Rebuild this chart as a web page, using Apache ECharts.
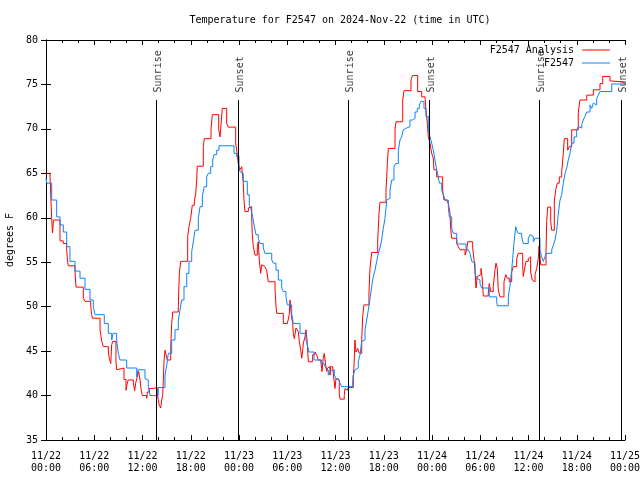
<!DOCTYPE html>
<html><head><meta charset="utf-8">
<script src="https://cdn.jsdelivr.net/npm/echarts@6/dist/echarts.min.js"></script>
<style>html,body{margin:0;padding:0;background:#fff}#c{width:640px;height:480px}</style>
</head><body><div id="c"></div>
<script>
// hours since 2024-11-22 00:00 UTC
const analysisHours = [0.00,0.50,0.71,0.81,0.93,1.74,2.15,2.57,2.67,2.77,3.61,3.73,4.64,4.85,5.56,5.68,5.78,6.72,6.93,7.13,7.75,7.87,8.05,8.17,8.29,8.70,8.79,8.99,9.70,9.95,10.11,10.23,10.86,11.03,11.15,11.35,11.53,11.69,11.81,11.97,12.52,12.60,12.85,13.34,13.55,13.84,13.96,14.09,14.26,14.39,14.51,14.59,14.67,14.80,14.92,15.08,15.51,15.63,15.76,16.45,16.58,16.75,17.62,17.78,17.99,18.19,18.44,18.62,18.74,18.81,19.56,19.68,20.52,20.68,21.48,21.64,21.76,21.92,22.47,22.67,23.59,23.79,23.91,24.12,24.34,24.46,24.53,24.62,24.74,25.16,25.37,25.58,25.65,25.78,25.99,26.28,26.40,26.52,26.70,26.82,27.02,27.23,27.44,27.64,28.48,28.60,28.69,29.51,30.01,30.25,30.34,30.53,30.68,30.75,30.88,31.09,31.30,31.37,31.50,31.67,31.80,31.92,32.00,32.21,32.33,32.49,32.62,33.16,33.45,33.66,33.86,34.16,34.32,34.48,34.61,34.78,34.91,35.03,35.19,35.32,35.40,35.65,35.81,35.94,36.06,36.22,36.47,36.56,37.09,37.18,37.39,37.47,37.59,38.21,38.30,38.42,38.55,38.76,38.96,39.26,39.38,39.54,40.16,40.29,40.50,41.25,41.41,41.53,42.28,42.37,42.44,42.57,43.40,43.52,44.36,44.52,45.39,45.55,46.22,46.72,47.13,47.25,47.42,47.54,47.75,47.96,48.16,48.25,48.58,49.33,49.49,49.83,50.03,50.24,50.32,50.45,51.07,51.27,51.48,52.11,52.32,52.44,53.06,53.23,53.35,53.47,53.63,53.76,54.09,54.22,54.30,54.38,55.00,55.12,55.30,55.62,55.83,55.96,56.12,56.24,56.46,56.95,57.17,57.36,57.61,57.91,58.11,58.53,58.73,59.28,59.35,59.48,59.69,59.97,60.10,60.27,60.47,60.68,60.81,61.02,61.22,61.31,61.52,62.18,62.26,62.39,62.76,62.89,63.21,63.42,63.58,63.83,64.13,64.33,64.45,64.87,65.07,65.37,66.19,66.40,67.24,68.06,68.89,69.23,70.14,70.35,71.59,72.00];
const analysisTemps = [65.0,64.6,59.9,58.3,59.75,57.4,57.1,56.4,55.25,54.6,53.9,52.2,50.9,50.6,50.1,49.1,48.7,47.4,46.1,45.5,44.9,44.2,43.6,45.7,46.1,43.8,42.9,43.1,41.8,40.6,41.4,41.75,41.4,40.55,41.4,42.1,42.7,41.75,40.8,40.0,39.7,40.4,40.8,40.7,40.9,40.25,39.5,38.9,38.6,39.5,40.0,41.6,43.8,45.1,44.6,44.0,45.5,48.1,49.4,50.0,53.75,55.1,57.9,59.0,59.9,61.4,61.8,62.75,64.25,65.8,68.0,68.9,69.9,71.6,69.9,69.1,70.4,72.3,70.6,70.2,68.4,67.1,66.1,65.4,65.75,64.6,63.9,62.0,60.7,61.1,61.25,60.1,58.1,56.75,55.8,56.75,57.3,55.25,53.75,54.7,54.5,54.7,54.1,52.8,51.9,50.1,49.25,48.1,48.3,49.1,50.75,48.9,48.1,47.0,46.4,47.6,47.75,47.2,46.1,45.1,44.2,45.1,45.9,46.6,47.4,45.9,43.8,44.6,44.9,44.6,44.0,43.8,42.7,44.2,44.75,43.4,42.7,43.1,43.25,42.3,43.25,43.1,41.75,40.8,41.9,41.75,40.25,39.6,40.0,40.8,41.0,40.6,40.9,42.1,43.25,46.25,44.9,45.3,44.75,46.25,48.9,50.2,51.5,54.3,56.1,57.5,60.5,61.75,63.1,64.6,66.1,67.8,69.9,70.8,73.25,74.3,75.5,76.0,74.2,73.6,73.4,72.1,70.6,69.1,68.4,67.25,66.7,65.4,64.6,63.1,62.0,61.8,61.6,60.5,58.8,57.7,57.1,56.75,56.4,55.8,56.4,57.3,56.6,55.25,54.1,52.1,53.4,53.6,54.3,53.4,52.4,51.2,51.5,52.6,51.7,52.25,54.1,54.9,54.3,51.9,51.1,52.8,53.6,53.2,52.8,53.9,54.5,55.4,56.0,54.5,53.4,54.1,55.1,55.4,55.6,53.9,53.0,52.8,53.6,54.3,55.4,56.8,54.7,56.2,59.6,61.2,59.6,58.6,62.0,63.3,63.9,64.6,65.2,67.25,68.9,67.6,68.0,69.9,71.9,73.25,73.8,74.4,75.1,75.9,75.4,75.3,75.1,75.1];

const stationHours = [0.00,0.09,0.71,1.33,1.74,2.15,2.57,2.98,3.61,4.23,4.85,5.47,5.88,6.09,7.25,7.75,8.17,8.33,8.79,8.99,9.20,10.03,11.28,11.44,12.31,12.52,12.72,12.93,13.96,14.80,15.01,15.21,15.63,16.04,16.45,16.66,16.87,17.16,17.50,17.78,18.12,18.32,18.53,18.94,19.15,19.44,19.68,19.98,20.18,20.48,20.73,20.89,21.23,21.51,23.38,23.71,24.00,24.12,24.34,24.53,25.03,25.28,25.46,25.70,25.87,26.11,26.40,26.61,27.02,27.23,28.07,28.27,28.60,28.89,29.31,29.51,29.84,30.01,30.55,30.75,31.59,32.33,32.49,32.70,33.33,34.28,34.57,34.78,34.98,35.10,35.32,35.44,35.85,36.06,36.35,36.56,36.77,38.14,38.21,38.42,38.63,38.83,39.05,39.26,39.46,39.67,39.88,40.08,40.29,40.50,40.70,40.91,41.12,41.32,41.53,41.74,41.94,42.15,42.37,42.57,42.78,42.99,43.27,43.49,43.81,44.02,44.23,44.43,44.64,44.85,45.26,45.60,45.89,46.17,46.42,46.63,47.00,47.25,47.54,47.75,47.96,48.16,48.37,48.58,48.78,48.91,49.21,49.41,49.62,50.03,50.15,50.45,50.65,51.07,51.15,52.23,52.51,52.73,52.94,53.13,53.35,53.56,53.76,53.97,54.18,55.12,56.04,56.12,57.49,57.70,57.91,58.03,58.23,58.41,58.53,58.73,59.15,59.35,59.97,60.19,60.40,60.60,60.81,61.43,61.64,61.84,62.05,62.18,62.89,63.08,63.30,63.51,63.71,63.92,64.13,64.33,64.54,64.75,64.95,65.16,65.37,65.66,65.99,66.19,66.40,66.62,66.81,67.03,67.24,67.65,67.86,68.06,68.27,68.48,68.68,68.89,70.35,72.00];
const stationTemps = [64.5,63.9,62.0,60.1,59.2,58.4,56.75,55.1,54.0,53.2,51.95,50.75,50.0,49.1,48.1,47.0,46.25,47.0,46.25,44.75,44.0,43.1,42.1,42.9,41.9,41.75,41.0,40.0,40.9,42.3,43.4,44.75,46.25,47.4,48.5,49.6,50.75,52.25,53.75,55.1,56.2,57.3,58.6,59.9,61.25,62.4,63.5,64.6,65.0,65.75,66.5,67.1,67.6,68.1,67.25,66.9,65.6,65.2,65.0,64.1,62.6,61.4,61.1,60.1,59.2,58.1,57.7,57.1,56.6,56.0,55.25,54.9,54.1,53.0,52.1,51.7,51.1,50.2,49.25,48.1,47.0,46.25,45.7,44.9,44.0,43.6,43.4,43.1,42.9,42.3,42.7,42.9,42.3,41.9,41.75,41.4,41.0,41.6,42.3,42.9,43.1,43.8,44.6,46.1,46.25,47.4,48.5,49.6,50.9,52.25,53.4,54.1,55.1,56.0,56.6,57.5,58.8,59.9,62.0,62.2,63.1,64.25,65.75,66.1,67.6,68.75,69.1,69.9,70.1,70.25,71.0,71.2,71.9,72.3,72.7,73.1,72.3,71.4,69.9,69.1,68.4,67.6,66.5,65.4,64.6,63.9,63.1,62.6,62.0,61.25,60.1,58.8,58.25,57.5,57.05,56.4,56.2,56.0,55.1,54.9,53.75,53.2,53.0,52.6,52.1,51.1,50.6,50.1,51.1,52.4,54.1,55.4,57.5,59.0,58.6,58.25,57.9,57.1,57.7,58.1,57.9,57.3,57.7,56.4,55.6,55.1,55.6,56.0,56.4,56.9,57.5,58.6,60.5,62.0,62.6,63.9,65.0,65.6,66.5,67.25,68.4,69.1,69.9,70.25,70.1,70.5,71.0,71.4,71.9,72.7,72.3,72.9,72.7,73.4,73.8,74.2,75.05,75.05];

const sunLabels = ['Sunrise','Sunset','Sunrise','Sunset','Sunrise','Sunset'];
const sunHours = [13.68,23.88,37.55,47.63,61.31,71.50];
const xTickLabels = ['11/22\n00:00','11/22\n06:00','11/22\n12:00','11/22\n18:00','11/23\n00:00','11/23\n06:00','11/23\n12:00','11/23\n18:00','11/24\n00:00','11/24\n06:00','11/24\n12:00','11/24\n18:00','11/25\n00:00'];
const seriesNames = ['F2547 Analysis','F2547'];

const FONT = 'DejaVu Sans Mono';
const zip = (a,b) => a.map((v,i)=>[v,b[i]]);
const sunLineTop = 73.25, sunLabelBase = 74.1;

const xCommon = {
  type:'value', min:0, max:72, interval:6,
  axisLine:{show:true, lineStyle:{color:'#000', width:1}},
  axisTick:{show:true, inside:true, length:5, lineStyle:{color:'#000'}},
  minorTick:{show:true, splitNumber:3, length:3, lineStyle:{color:'#000'}},
  splitLine:{show:false}
};
const yCommon = {
  type:'value', min:35, max:80, interval:5,
  axisLine:{show:true, lineStyle:{color:'#000', width:1}},
  axisTick:{show:true, inside:true, length:5, lineStyle:{color:'#000'}},
  splitLine:{show:false}
};

const chart = echarts.init(document.getElementById('c'), null, {renderer:'canvas'});
chart.setOption({
  animation:false,
  backgroundColor:'#fff',
  textStyle:{fontFamily:FONT, color:'#000'},
  title:{text:'Temperature for F2547 on 2024-Nov-22 (time in UTC)', left:335, top:10, textAlign:'center',
    textStyle:{fontFamily:FONT, fontSize:10, fontWeight:'normal', color:'#000'}},
  grid:{left:46, right:15, top:40, bottom:40, containLabel:false, outerBoundsMode:'none'},
  legend:[
    {data:[seriesNames[0]], right:25, top:40, itemWidth:28, itemHeight:1, itemGap:0, icon:'rect', align:'right',
      textStyle:{fontFamily:FONT, fontSize:10, color:'#000', padding:[0,3,0,0]}},
    {data:[seriesNames[1]], right:25, top:53, itemWidth:28, itemHeight:1, itemGap:0, icon:'rect', align:'right',
      textStyle:{fontFamily:FONT, fontSize:10, color:'#000', padding:[0,3,0,0]}}
  ],
  xAxis:[
    Object.assign({}, xCommon, {position:'bottom',
      axisLabel:{show:true, fontFamily:FONT, fontSize:10, color:'#000', lineHeight:12, margin:10,
        formatter:(v)=>xTickLabels[Math.round(v/6)]}}),
    Object.assign({}, xCommon, {position:'top', axisLabel:{show:false}})
  ],
  yAxis:[
    Object.assign({}, yCommon, {position:'left', name:'degrees F', nameLocation:'middle', nameRotate:90, nameGap:30,
      nameTextStyle:{fontFamily:FONT, fontSize:10, color:'#000'},
      axisLabel:{show:true, fontFamily:FONT, fontSize:10, color:'#000', margin:8}}),
    Object.assign({}, yCommon, {position:'right', axisLabel:{show:false}})
  ],
  series:[
    {name:seriesNames[0], type:'line', step:'end', showSymbol:false, symbol:'none',
      data:zip(analysisHours, analysisTemps), color:'#ff0000', lineStyle:{color:'#ff0000', width:1}, z:2},
    {name:seriesNames[1], type:'line', step:'end', showSymbol:false, symbol:'none',
      data:zip(stationHours, stationTemps), color:'#0a84ff', lineStyle:{color:'#0a84ff', width:1}, z:3},
    {name:'sun', type:'line', data:[], silent:true, z:4,
      markLine:{silent:true, symbol:['none','none'], animation:false,
        lineStyle:{color:'#000', width:1, type:'solid'}, label:{show:false},
        data: sunHours.map(h=>[{coord:[h,35]},{coord:[h,sunLineTop]}])}},
    {name:'sunlabels', type:'scatter', symbolSize:0, silent:true, z:5,
      data: sunHours.map((h,i)=>({value:[h,sunLabelBase], label:{formatter:sunLabels[i]}})),
      label:{show:true, position:[2,0], rotate:90, align:'left', verticalAlign:'middle',
        fontFamily:FONT, fontSize:10, color:'#000'}}
  ]
});
</script></body></html>
